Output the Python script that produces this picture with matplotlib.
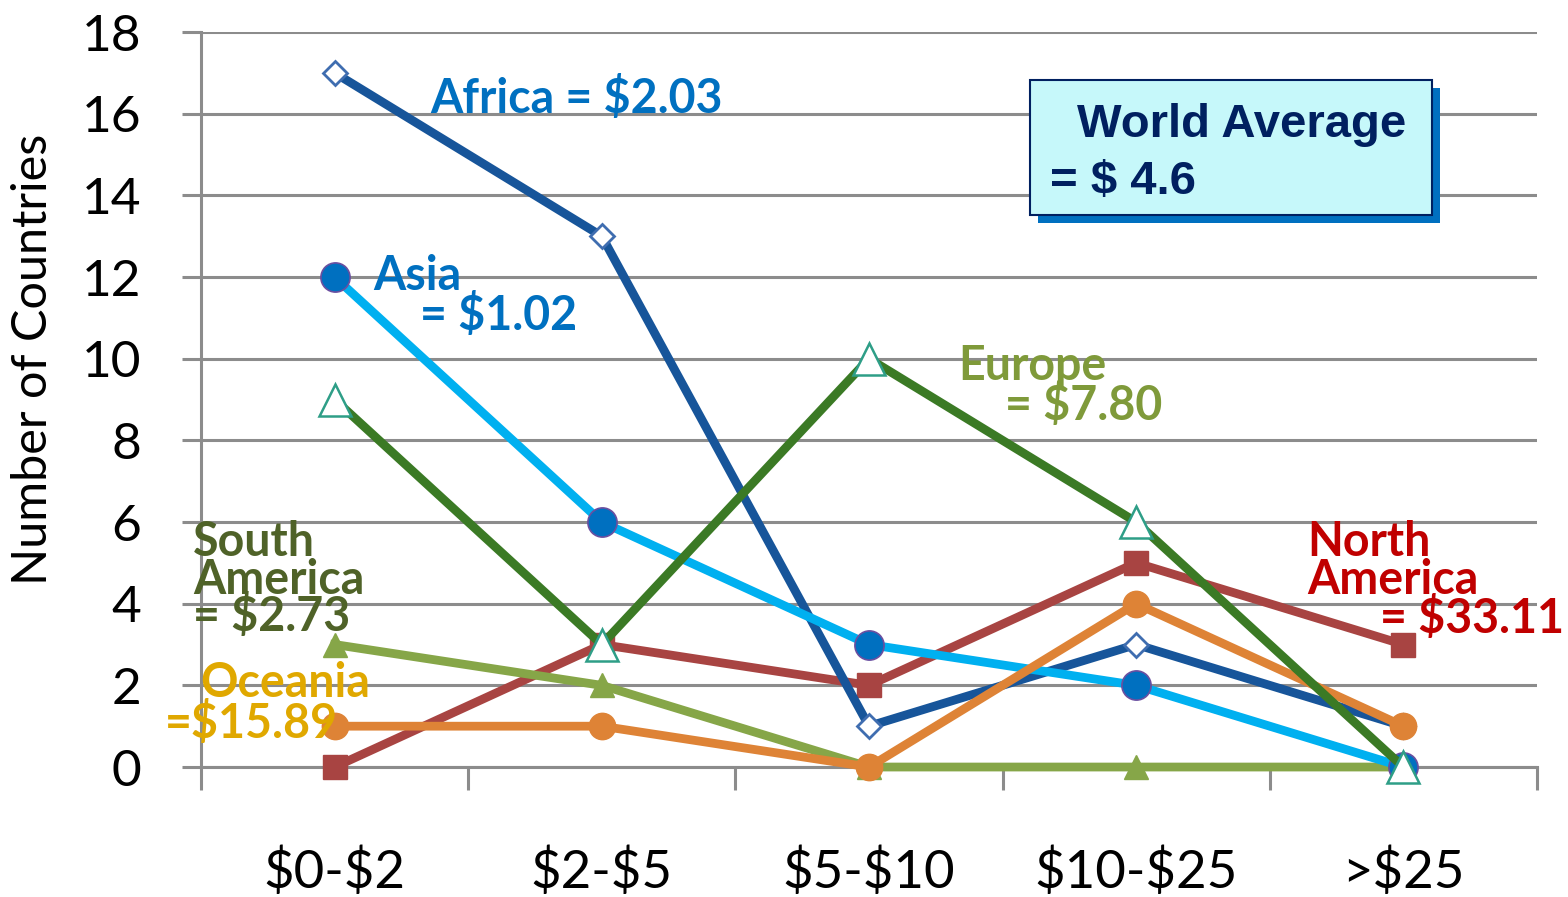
import matplotlib.pyplot as plt
from matplotlib.patches import Rectangle

plt.rcParams['text.parse_math'] = False

# data
ranges = ["$0-$2", "$2-$5", "$5-$10", "$10-$25", ">$25"]
north_america = [0, 3, 2, 5, 3]
south_america = [3, 2, 0, 0, 0]
africa = [17, 13, 1, 3, 1]
asia = [12, 6, 3, 2, 0]
oceania = [1, 1, 0, 4, 1]
europe = [9, 3, 10, 6, 0]

fig = plt.figure(figsize=(15.68, 8.97), dpi=100)
ax = fig.add_axes([0.1282, 0.1449, 0.8520, 0.8194])

x = list(range(len(ranges)))
grid_col = '#8C8C8C'
lw = 6.3

# series, bottom to top
ax.plot(x, north_america, color='#A84442', lw=lw, marker='s', ms=17,
        mfc='#A84442', mec='#A84442', clip_on=False, zorder=3)
ax.plot(x, south_america, color='#86A648', lw=lw, marker='^', ms=17,
        mfc='#86A648', mec='#86A648', clip_on=False, zorder=4)
ax.plot(x, africa, color='#17559A', lw=lw, marker='D', ms=12,
        mfc='white', mec='#3F6DB0', mew=2, clip_on=False, zorder=5)
ax.plot(x, asia, color='#00B0F0', lw=lw, marker='o', ms=21,
        mfc='#0070C0', mec='#6A4FA0', mew=1.2, clip_on=False, zorder=6)
ax.plot(x, oceania, color='#DE8336', lw=lw, marker='o', ms=19,
        mfc='#DE8336', mec='#DE8336', clip_on=False, zorder=7)
ax.plot(x, europe, color='#3B7A25', lw=lw, marker='^', ms=23,
        mfc='white', mec='#2E9E87', mew=1.8, clip_on=False, zorder=8)

ax.set_xlim(-0.5, len(ranges) - 0.5)
ax.set_ylim(0, 18)
ax.set_yticks(range(0, 19, 2))
ax.set_xticks([i - 0.5 for i in range(len(ranges) + 1)])
ax.set_xticklabels([])
ax.set_xticks(x, minor=True)
ax.set_xticklabels(ranges, minor=True)

ax.yaxis.grid(True, color=grid_col, lw=2.2, zorder=0)
ax.set_axisbelow(True)
for s in ['top', 'right']:
    ax.spines[s].set_visible(False)
for s in ['left', 'bottom']:
    ax.spines[s].set_color(grid_col)
    ax.spines[s].set_linewidth(2.2)
    ax.spines[s].set_zorder(1)

ax.tick_params(axis='y', direction='out', length=14, width=2.2, color=grid_col,
               pad=29, labelsize=37)
ax.tick_params(axis='x', which='major', direction='out', length=16.5, width=2.2,
               color=grid_col)
ax.tick_params(axis='x', which='minor', length=0, pad=58, labelsize=38)
for lab in ax.get_yticklabels() + ax.get_xticklabels(minor=True):
    lab.set_fontfamily('Lato')

fig.text(0.021, 0.599, 'Number of Countries', rotation=90, fontsize=35,
         family='Lato', ha='center', va='center')

# region labels
def lab(xx, yy, s, c):
    ax.text(xx, yy, s, color=c, fontsize=33.5, fontweight='bold', family='Lato',
            ha='left', va='baseline', zorder=10)

lab(0.357, 16.02, 'Africa = $2.03', '#0070C0')
lab(0.144, 11.68, 'Asia', '#0070C0')
lab(0.32, 10.70, '= $1.02', '#0070C0')
lab(2.333, 9.48, 'Europe', '#7F9A3A')
lab(2.509, 8.50, '= $7.80', '#7F9A3A')
lab(-0.53, 5.16, 'South', '#4F6228')
lab(-0.53, 4.24, 'America', '#4F6228')
lab(-0.53, 3.34, '= $2.73', '#4F6228')
lab(-0.504, 1.71, 'Oceania', '#E0A800')
lab(-0.635, 0.71, '=$15.89', '#E0A800')
lab(3.639, 5.16, 'North', '#C00000')
lab(3.639, 4.24, 'America', '#C00000')
lab(3.912, 3.29, '= $33.11', '#C00000')

# world average box
bx0, by0, bw, bh = 0.6569, 0.7603, 0.2564, 0.1505
fig.patches.append(Rectangle((bx0 + 0.0051, by0 - 0.0089), bw, bh, transform=fig.transFigure,
                             facecolor='#0070C0', edgecolor='none', zorder=20))
fig.patches.append(Rectangle((bx0, by0), bw, bh, transform=fig.transFigure,
                             facecolor='#C6F8FA', edgecolor='#002060', lw=1.5, zorder=21))
fig.text(0.6869, 0.8473, 'World Average', color='#002060', fontsize=34,
         fontweight='bold', family='Liberation Sans', va='baseline', zorder=22)
fig.text(0.6696, 0.7837, '= $ 4.6', color='#002060', fontsize=34,
         fontweight='bold', family='Liberation Sans', va='baseline', zorder=22)

fig.savefig('out.png', dpi=100)
